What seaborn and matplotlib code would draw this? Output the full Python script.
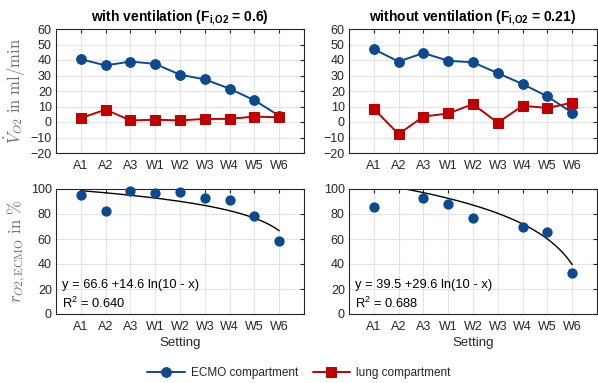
import numpy as np
import pandas as pd
import seaborn as sns
import matplotlib.pyplot as plt

settings = ["A1", "A2", "A3", "W1", "W2", "W3", "W4", "W5", "W6"]

# V_O2 in ml/min
ecmo_vent = [40.5, 36.5, 39, 37.5, 30.5, 27.5, 21.5, 14, 4]
lung_vent = [2.5, 8, 1, 1.5, 1, 2, 2, 3.5, 3]
ecmo_novent = [47, 39, 44.5, 39.5, 38.5, 31.5, 24.5, 16.5, 6]
lung_novent = [8.5, -7.8, 3.5, 5.5, 11.5, -0.5, 10.5, 9, 12.5]

# r_O2,ECMO in %
ratio_vent = [95, 82.4, 98.4, 96.8, 97.6, 93, 91.2, 78.7, 58.1]
ratio_novent = [85.3, np.nan, 92.8, 88.3, 77, np.nan, 69.3, 65.3, 32.8]

# fit y = a + b ln(10 - x)
fit_vent = (66.6, 14.6, 0.640)
fit_novent = (39.5, 29.6, 0.688)

titles = [r"with ventilation (F$_{\mathbf{i{,}O2}}$ = 0.6)",
          r"without ventilation (F$_{\mathbf{i{,}O2}}$ = 0.21)"]

blue = "#0B4A8F"
red = "#C00000"
frame = "#262626"

sns.set_style("whitegrid")
plt.rcParams["font.family"] = ["Liberation Sans", "DejaVu Sans"]
plt.rcParams["mathtext.fontset"] = "custom"
plt.rcParams["mathtext.rm"] = "Liberation Sans"
plt.rcParams["mathtext.it"] = "Liberation Sans:italic"
plt.rcParams["mathtext.bf"] = "Liberation Sans:bold"

fig = plt.figure(figsize=(5.98, 3.83), dpi=100)
W, H = 598, 383


def make_ax(x0, y0, x1, y1):
    return fig.add_axes([x0 / W, 1 - y1 / H, (x1 - x0) / W, (y1 - y0) / H])


axes = [[make_ax(56, 29, 304, 153), make_ax(349, 29, 597, 153)],
        [make_ax(56, 189, 304, 314), make_ax(349, 189, 597, 314)]]

x = np.arange(1, 10)


def style(ax, yticks):
    ax.set_xlim(0, 10)
    ax.set_xticks(x)
    ax.set_xticklabels(settings)
    ax.set_ylim(yticks[0], yticks[-1])
    ax.set_yticks(yticks)
    ax.grid(True, color="#e3e3e3", linewidth=0.8)
    ax.tick_params(axis="both", which="both", direction="in", length=3,
                   color=frame, labelsize=9, labelcolor=frame,
                   top=True, right=True, pad=3)
    ax.tick_params(axis="x", pad=5)
    for s in ax.spines.values():
        s.set_color(frame)
        s.set_linewidth(0.8)
        s.set_visible(True)
    ax.set_facecolor("white")


tops = [(ecmo_vent, lung_vent), (ecmo_novent, lung_novent)]
for i, (ecmo, lung) in enumerate(tops):
    ax = axes[0][i]
    sns.lineplot(x=x, y=ecmo, ax=ax, color=blue, marker="o", markersize=7,
                 markeredgecolor=blue, linewidth=1.4, label="ECMO compartment",
                 legend=False, clip_on=False)
    sns.lineplot(x=x, y=lung, ax=ax, color=red, marker="s", markersize=6.5,
                 markeredgecolor=red, linewidth=1.4, label="lung compartment",
                 legend=False, clip_on=False)
    style(ax, np.arange(-20, 61, 10))
    ax.set_title(titles[i], fontsize=10, fontweight="bold", color="black", pad=6)

axes[0][0].set_ylabel(r"$\dot{V}_{O2}\ \mathrm{in\ ml/min}$", math_fontfamily="cm",
                      fontsize=12, color="#707070", labelpad=2)

bottoms = [(ratio_vent, fit_vent), (ratio_novent, fit_novent)]
for i, (ratio, fit) in enumerate(bottoms):
    ax = axes[1][i]
    a, b, r2 = fit
    df = pd.DataFrame({"x": x, "r": ratio}).dropna()
    sns.scatterplot(data=df, x="x", y="r", ax=ax, color=blue, s=55,
                    edgecolor=blue, linewidth=0, zorder=3, clip_on=False)
    xf = np.linspace(1, 9, 200)
    yf = a + b * np.log(10 - xf)
    mask = yf <= 100
    sns.lineplot(x=xf[mask], y=yf[mask], ax=ax, color="black", linewidth=1,
                 estimator=None, sort=False)
    style(ax, np.arange(0, 101, 20))
    ax.set_xlabel("Setting", fontsize=9.5, color=frame, labelpad=3)
    ax.text(0.024, 0.205, f"y = {a:.1f} +{b:.1f} ln(10 - x)",
            transform=ax.transAxes, fontsize=9.3, color="black", va="baseline")
    ax.text(0.024, 0.045, f"R$^2$ = {r2:.3f}",
            transform=ax.transAxes, fontsize=9.3, color="black", va="baseline")
    ax.set_ylabel("")

axes[1][0].set_ylabel(r"$r_{O2,\mathrm{ECMO}}\ \mathrm{in}\ \%$", math_fontfamily="cm",
                      fontsize=12, color="#707070", labelpad=2)
axes[0][1].set_ylabel("")
axes[0][1].set_xlabel("")
axes[0][0].set_xlabel("")

handles, labels = axes[0][0].get_legend_handles_labels()
fig.legend(handles[:2], labels[:2], loc="center", bbox_to_anchor=(0.5, 1 - 373 / H),
           ncol=2, frameon=False, fontsize=8.5, handlelength=3.2,
           columnspacing=1.2, handletextpad=0.5)

fig.savefig("out.png", dpi=100)
